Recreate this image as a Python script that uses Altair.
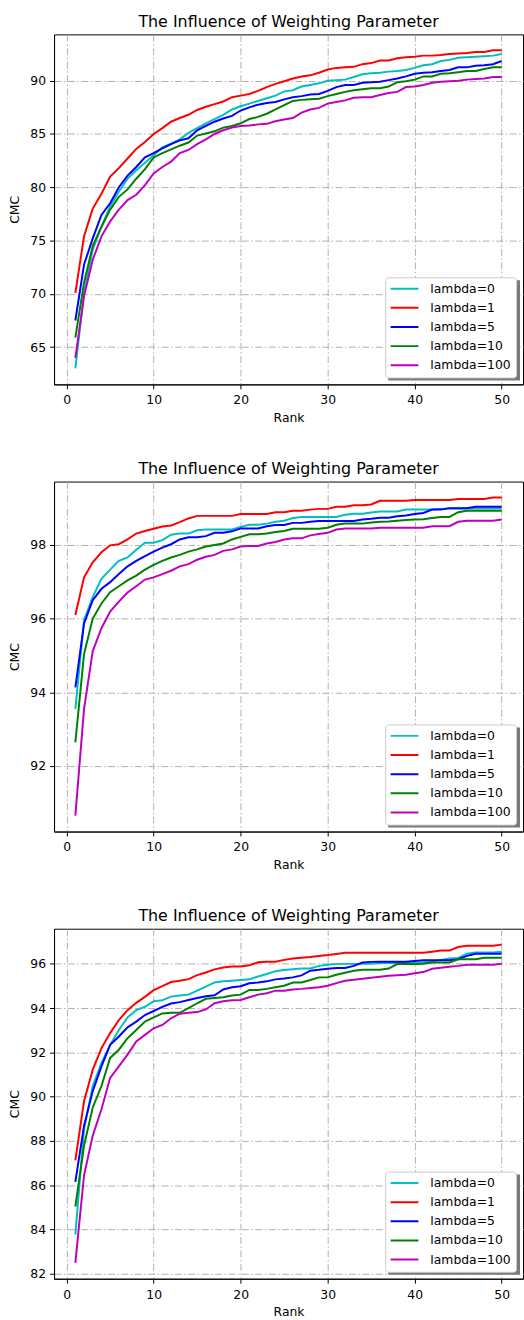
import altair as alt
import pandas as pd

ranks = list(range(1, 51))
series_names = ["lambda=0", "lambda=1", "lambda=5", "lambda=10", "lambda=100"]
series_colors = ["#00bfbf", "#ff0000", "#0000ff", "#008000", "#bf00bf"]
x_ticks = [0, 10, 20, 30, 40, 50]
chart_title = "The Influence of Weighting Parameter"

# ---------------- panel 1 ----------------
p1_l0 = [63.0, 70.1, 74.15, 76.3, 78.2, 79.6, 80.8, 81.6, 82.3, 83.0,
         83.75, 84.1, 84.5, 85.1, 85.55, 86.0, 86.4, 86.8, 87.3, 87.6,
         87.85, 88.1, 88.35, 88.6, 89.0, 89.1, 89.45, 89.6, 89.75, 90.0,
         90.05, 90.1, 90.35, 90.6, 90.7, 90.75, 90.85, 90.9, 91.0, 91.2,
         91.45, 91.55, 91.85, 91.95, 92.15, 92.2, 92.25, 92.3, 92.35, 92.5]
p1_l1 = [70.1, 75.4, 78.0, 79.4, 81.0, 81.8, 82.7, 83.6, 84.25, 85.0,
         85.55, 86.15, 86.5, 86.8, 87.25, 87.55, 87.8, 88.05, 88.45, 88.6,
         88.75, 89.05, 89.4, 89.7, 89.95, 90.2, 90.4, 90.5, 90.75, 91.05,
         91.2, 91.25, 91.3, 91.55, 91.65, 91.9, 91.9, 92.1, 92.2, 92.25,
         92.35, 92.35, 92.4, 92.5, 92.55, 92.6, 92.7, 92.7, 92.85, 92.85]
p1_l5 = [67.5, 72.75, 75.2, 77.4, 78.5, 80.0, 81.1, 81.9, 82.8, 83.2,
         83.65, 84.05, 84.4, 84.6, 85.35, 85.75, 86.15, 86.45, 86.7, 87.2,
         87.5, 87.75, 87.9, 88.0, 88.25, 88.45, 88.55, 88.7, 88.75, 89.05,
         89.4, 89.6, 89.6, 89.8, 89.85, 89.9, 90.05, 90.2, 90.4, 90.65,
         90.75, 90.8, 90.9, 91.0, 91.25, 91.25, 91.4, 91.45, 91.55, 91.85]
p1_l10 = [65.9, 71.05, 74.5, 76.3, 77.9, 79.1, 79.8, 80.8, 81.7, 82.8,
          83.2, 83.55, 83.9, 84.2, 84.85, 85.05, 85.25, 85.6, 85.75, 86.0,
          86.4, 86.6, 86.9, 87.3, 87.7, 88.1, 88.2, 88.25, 88.3, 88.55,
          88.75, 88.95, 89.1, 89.2, 89.3, 89.3, 89.45, 89.85, 89.95, 90.1,
          90.4, 90.4, 90.65, 90.7, 90.8, 90.9, 90.9, 91.1, 91.25, 91.25]
p1_l100 = [64.0, 69.8, 73.2, 75.4, 76.8, 77.9, 78.8, 79.3, 80.2, 81.3,
           81.9, 82.4, 83.2, 83.5, 84.05, 84.5, 85.0, 85.35, 85.6, 85.75,
           85.8, 85.9, 85.95, 86.2, 86.35, 86.5, 87.0, 87.3, 87.45, 87.85,
           88.0, 88.15, 88.4, 88.45, 88.45, 88.65, 88.85, 88.95, 89.4, 89.45,
           89.6, 89.8, 89.9, 89.95, 90.0, 90.1, 90.15, 90.2, 90.35, 90.35]
p1_yticks = [65, 70, 75, 80, 85, 90]

# ---------------- panel 2 ----------------
p2_l0 = [93.55, 95.96, 96.59, 97.08, 97.33, 97.57, 97.66, 97.87, 98.06, 98.06,
         98.13, 98.28, 98.31, 98.31, 98.4, 98.42, 98.42, 98.42, 98.42, 98.49,
         98.55, 98.55, 98.58, 98.63, 98.66, 98.73, 98.76, 98.76, 98.76, 98.76,
         98.76, 98.82, 98.85, 98.85, 98.88, 98.91, 98.91, 98.91, 98.96, 98.96,
         98.96, 98.96, 98.98, 98.99, 98.99, 98.99, 98.99, 98.99, 98.99, 98.99]
p2_l1 = [96.1, 97.12, 97.53, 97.8, 97.99, 98.02, 98.15, 98.31, 98.38, 98.44,
         98.5, 98.53, 98.62, 98.72, 98.79, 98.79, 98.79, 98.79, 98.79, 98.84,
         98.84, 98.84, 98.84, 98.89, 98.89, 98.93, 98.93, 98.96, 98.98, 98.98,
         99.04, 99.04, 99.08, 99.08, 99.1, 99.2, 99.2, 99.2, 99.2, 99.22,
         99.22, 99.22, 99.22, 99.22, 99.25, 99.25, 99.25, 99.25, 99.29, 99.29]
p2_l5 = [94.13, 95.87, 96.5, 96.81, 96.99, 97.21, 97.42, 97.57, 97.7, 97.82,
         97.93, 98.02, 98.15, 98.21, 98.21, 98.24, 98.33, 98.33, 98.37, 98.45,
         98.45, 98.45, 98.51, 98.54, 98.54, 98.6, 98.6, 98.63, 98.65, 98.65,
         98.65, 98.65, 98.65, 98.69, 98.71, 98.74, 98.74, 98.78, 98.8, 98.84,
         98.87, 98.96, 98.96, 99.0, 99.0, 99.0, 99.04, 99.04, 99.04, 99.04]
p2_l10 = [92.64, 95.04, 96.0, 96.41, 96.72, 96.88, 97.04, 97.17, 97.33, 97.46,
          97.57, 97.66, 97.73, 97.82, 97.88, 97.96, 98.0, 98.04, 98.15, 98.22,
          98.29, 98.29, 98.31, 98.35, 98.38, 98.44, 98.44, 98.44, 98.44, 98.47,
          98.55, 98.58, 98.58, 98.58, 98.61, 98.63, 98.64, 98.66, 98.68, 98.69,
          98.7, 98.73, 98.76, 98.76, 98.89, 98.93, 98.93, 98.93, 98.93, 98.93]
p2_l100 = [90.65, 93.55, 95.12, 95.74, 96.19, 96.46, 96.71, 96.88, 97.06, 97.12,
           97.21, 97.3, 97.42, 97.48, 97.6, 97.68, 97.73, 97.84, 97.88, 97.96,
           97.97, 97.97, 98.04, 98.08, 98.15, 98.18, 98.18, 98.26, 98.3, 98.33,
           98.42, 98.45, 98.45, 98.45, 98.45, 98.47, 98.47, 98.47, 98.47, 98.47,
           98.47, 98.51, 98.51, 98.51, 98.63, 98.66, 98.66, 98.66, 98.66, 98.69]
p2_yticks = [92, 94, 96, 98]

# ---------------- panel 3 ----------------
p3_l0 = [83.76, 88.54, 90.48, 91.52, 92.34, 93.01, 93.58, 93.91, 94.06, 94.31,
         94.36, 94.52, 94.57, 94.61, 94.79, 94.97, 95.16, 95.21, 95.24, 95.27,
         95.3, 95.43, 95.54, 95.67, 95.72, 95.76, 95.79, 95.79, 95.91, 95.96,
         96.0, 96.0, 96.0, 96.0, 96.01, 96.04, 96.04, 96.04, 96.04, 96.04,
         96.07, 96.1, 96.18, 96.24, 96.27, 96.46, 96.52, 96.52, 96.52, 96.55]
p3_l1 = [87.12, 89.8, 91.22, 92.19, 92.87, 93.46, 93.91, 94.24, 94.51, 94.81,
         94.99, 95.18, 95.24, 95.31, 95.49, 95.61, 95.75, 95.84, 95.88, 95.88,
         95.94, 96.07, 96.1, 96.1, 96.18, 96.24, 96.28, 96.31, 96.36, 96.4,
         96.45, 96.5, 96.5, 96.5, 96.5, 96.5, 96.5, 96.5, 96.5, 96.5,
         96.5, 96.55, 96.6, 96.6, 96.76, 96.82, 96.82, 96.82, 96.82, 96.87]
p3_l5 = [86.15, 88.69, 90.25, 91.37, 92.34, 92.72, 93.13, 93.39, 93.69, 93.87,
         94.06, 94.21, 94.27, 94.37, 94.46, 94.54, 94.58, 94.84, 94.94, 94.99,
         95.12, 95.16, 95.21, 95.3, 95.34, 95.39, 95.48, 95.69, 95.73, 95.78,
         95.81, 95.81, 95.91, 96.06, 96.09, 96.1, 96.1, 96.1, 96.1, 96.13,
         96.16, 96.16, 96.16, 96.16, 96.21, 96.36, 96.46, 96.46, 96.46, 96.46]
p3_l10 = [85.03, 87.79, 89.51, 90.48, 91.75, 92.12, 92.64, 93.01, 93.39, 93.58,
          93.76, 93.79, 93.79, 94.0, 94.22, 94.42, 94.46, 94.49, 94.57, 94.61,
          94.82, 94.82, 94.87, 94.94, 95.01, 95.16, 95.16, 95.27, 95.39, 95.39,
          95.51, 95.6, 95.69, 95.73, 95.73, 95.73, 95.79, 95.99, 95.99, 95.99,
          96.01, 96.06, 96.06, 96.06, 96.21, 96.21, 96.21, 96.28, 96.28, 96.28]
p3_l100 = [82.49, 86.45, 88.24, 89.43, 90.85, 91.37, 91.9, 92.49, 92.79, 93.09,
           93.24, 93.54, 93.75, 93.79, 93.82, 93.94, 94.22, 94.31, 94.36, 94.37,
           94.49, 94.61, 94.67, 94.79, 94.79, 94.84, 94.87, 94.91, 94.94, 95.01,
           95.13, 95.24, 95.28, 95.33, 95.37, 95.42, 95.46, 95.49, 95.51, 95.58,
           95.63, 95.78, 95.82, 95.87, 95.91, 95.96, 95.96, 95.96, 95.96, 96.01]
p3_yticks = [82, 84, 86, 88, 90, 92, 94, 96]

PLOT_W = 473
PLOT_H = 353
FONT = "DejaVu Sans"

LEG_X = 334
LEG_Y = 245
LEG_W = 133
LEG_H = 101


def panel(series_vals, yticks):
    rows = []
    for name, vals in zip(series_names, series_vals):
        for r, c in zip(ranks, vals):
            rows.append({"Rank": r, "CMC": c, "series": name})
    df = pd.DataFrame(rows)
    allv = [v for s in series_vals for v in s]
    lo, hi = min(allv), max(allv)
    m = (hi - lo) * 0.05
    xr = (ranks[-1] - ranks[0]) * 0.05

    lines = alt.Chart(df).mark_line(strokeWidth=2, clip=True).encode(
        x=alt.X("Rank:Q",
                scale=alt.Scale(domain=[ranks[0] - xr, ranks[-1] + xr], nice=False, zero=False),
                axis=alt.Axis(values=x_ticks, title="Rank", format="d")),
        y=alt.Y("CMC:Q",
                scale=alt.Scale(domain=[lo - m, hi + m], nice=False, zero=False),
                axis=alt.Axis(values=yticks, title="CMC", format="d")),
        color=alt.Color("series:N",
                        scale=alt.Scale(domain=series_names, range=series_colors),
                        sort=series_names,
                        legend=alt.Legend(title=None, orient="none", direction="vertical",
                                          legendX=LEG_X, legendY=LEG_Y)),
    )
    shadow = alt.Chart(pd.DataFrame({"k": [0]})).mark_rect(color="#7a7a7a").encode(
        x=alt.value(LEG_X + 3), x2=alt.value(LEG_X + LEG_W + 3),
        y=alt.value(LEG_Y + 3), y2=alt.value(LEG_Y + LEG_H + 3),
    )
    return alt.layer(shadow, lines).properties(
        width=PLOT_W, height=PLOT_H,
        title=alt.TitleParams(chart_title, fontSize=16, fontWeight="normal",
                              anchor="middle", font=FONT, color="black", offset=4.5),
    )


p1 = panel([p1_l0, p1_l1, p1_l5, p1_l10, p1_l100], p1_yticks)
p2 = panel([p2_l0, p2_l1, p2_l5, p2_l10, p2_l100], p2_yticks)
p3 = panel([p3_l0, p3_l1, p3_l5, p3_l10, p3_l100], p3_yticks)

chart = alt.vconcat(p1, p2, p3, spacing=36).resolve_scale(
    color="independent"
).resolve_legend(
    color="independent"
).properties(
    padding={"left": 7.5, "top": 8, "right": 0, "bottom": 0}
).configure(font=FONT).configure_view(
    stroke="black", strokeWidth=1
).configure_axis(
    grid=True, gridColor="#b0b0b0", gridDash=[7, 2.5, 1.5, 2.5], gridWidth=1,
    domainColor="black", domainWidth=1, tickColor="black", tickSize=4.5, tickWidth=1,
    labelFont=FONT, labelFontSize=12.5, labelColor="black",
    titleFont=FONT, titleFontSize=12.5, titleColor="black", titleFontWeight="normal",
    labelFlush=False,
).configure_axisX(
    labelPadding=5, titlePadding=5.5,
).configure_axisY(
    labelPadding=4, titlePadding=8.5,
).configure_legend(
    labelFont=FONT, labelFontSize=12.5, labelColor="black",
    symbolType="stroke", symbolStrokeWidth=2, symbolSize=784, clipHeight=14,
    rowPadding=5.3, padding=4.5, labelOffset=11,
    fillColor="white", strokeColor="#cccccc", cornerRadius=3,
)

chart.save("out.html", embed_options={"renderer": "svg", "actions": False})
